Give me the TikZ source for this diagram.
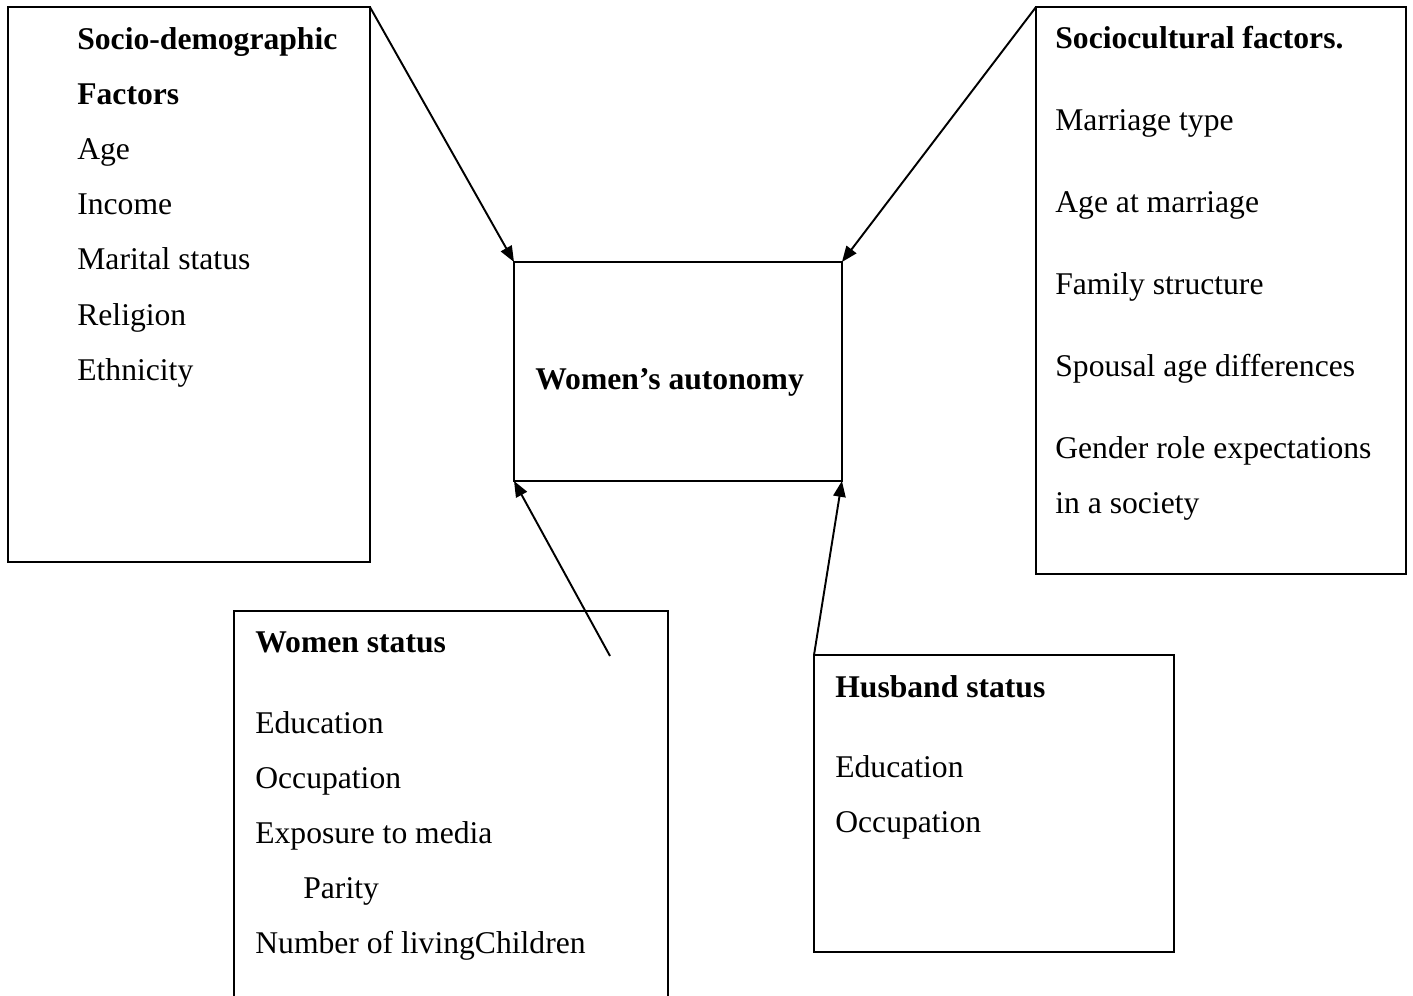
\documentclass[tikz,border=0pt]{standalone}
\usepackage{fontspec}
\setmainfont{Liberation Serif}
\usetikzlibrary{arrows.meta}
\tikzset{
	factorbox/.style = {draw, line width=1.1pt, rectangle, anchor=north west, inner sep=0pt, outer sep=0pt},
	item/.style = {anchor=base west, inner sep=0pt, font=\fontsize{18}{21}\selectfont},
	head/.style = {item, font=\fontsize{18}{21}\selectfont\bfseries},
	link/.style = {line width=1.1pt, -{Triangle[length=9pt,width=7pt]}}
}

\begin{document}
\begin{tikzpicture}[x=0.02cm, y=-0.02cm]
			\useasboundingbox (0,0) rectangle (1413,995);
			\clip (0,0) rectangle (1413,995);
			% boxes
			\node[factorbox, minimum width=7.24cm, minimum height=11.1cm] (sdf) at (8,7) {};
			\node[factorbox, minimum width=7.4cm, minimum height=11.34cm] (scf) at (1036,7) {};
			\node[factorbox, minimum width=6.56cm, minimum height=4.38cm] (wa) at (514,262) {};
			\node[factorbox, minimum width=8.68cm, minimum height=7.98cm] (ws) at (234,611) {};
			\node[factorbox, minimum width=7.2cm, minimum height=5.94cm] (hs) at (814,655) {};
			
			% centre
			\node[head] (watxt) at (535,389) {Women’s autonomy};
			
			% socio-demographic
			\node[head] (sdfh1) at (77,49) {Socio-demographic};
			\node[head] (sdfh2) at (77,104) {Factors};
			\foreach \txt/\y [count=\i] in {Age/159.5, Income/214.5, Marital status/269.5, Religion/325, Ethnicity/380}
				{\node[item] (sdf\i) at (77,\y) {\txt};}
			
			% sociocultural
			\node[head] (scfh) at (1055,48) {Sociocultural factors.};
			\foreach \txt/\y [count=\i] in {Marriage type/130, Age at marriage/212, Family structure/294, Spousal age differences/376, Gender role expectations/458, in a society/513}
				{\node[item] (scf\i) at (1055,\y) {\txt};}
			
			% women status
			\node[head] (wsh) at (255,652) {Women status};
			\foreach \txt/\y [count=\i] in {Education/733, Occupation/788, Exposure to media/843}
				{\node[item] (ws\i) at (255,\y) {\txt};}
			\node[item] (ws4) at (303,898) {Parity};
			\node[item] (ws5) at (255,953) {Number of livingChildren};
			
			% husband status
			\node[head] (hsh) at (835,697) {Husband status};
			\node[item] (hs1) at (835,777) {Education};
			\node[item] (hs2) at (835,832) {Occupation};
			
			% arrows
			\coordinate (wsout) at (610,656);
			\draw[link] (sdf.north east) -- (wa.north west);
			\draw[link] (scf.north west) -- (wa.north east);
			\draw[link] (wsout) -- (wa.south west);
			\draw[link] (hs.north west) -- (wa.south east);
\end{tikzpicture}
\end{document}
